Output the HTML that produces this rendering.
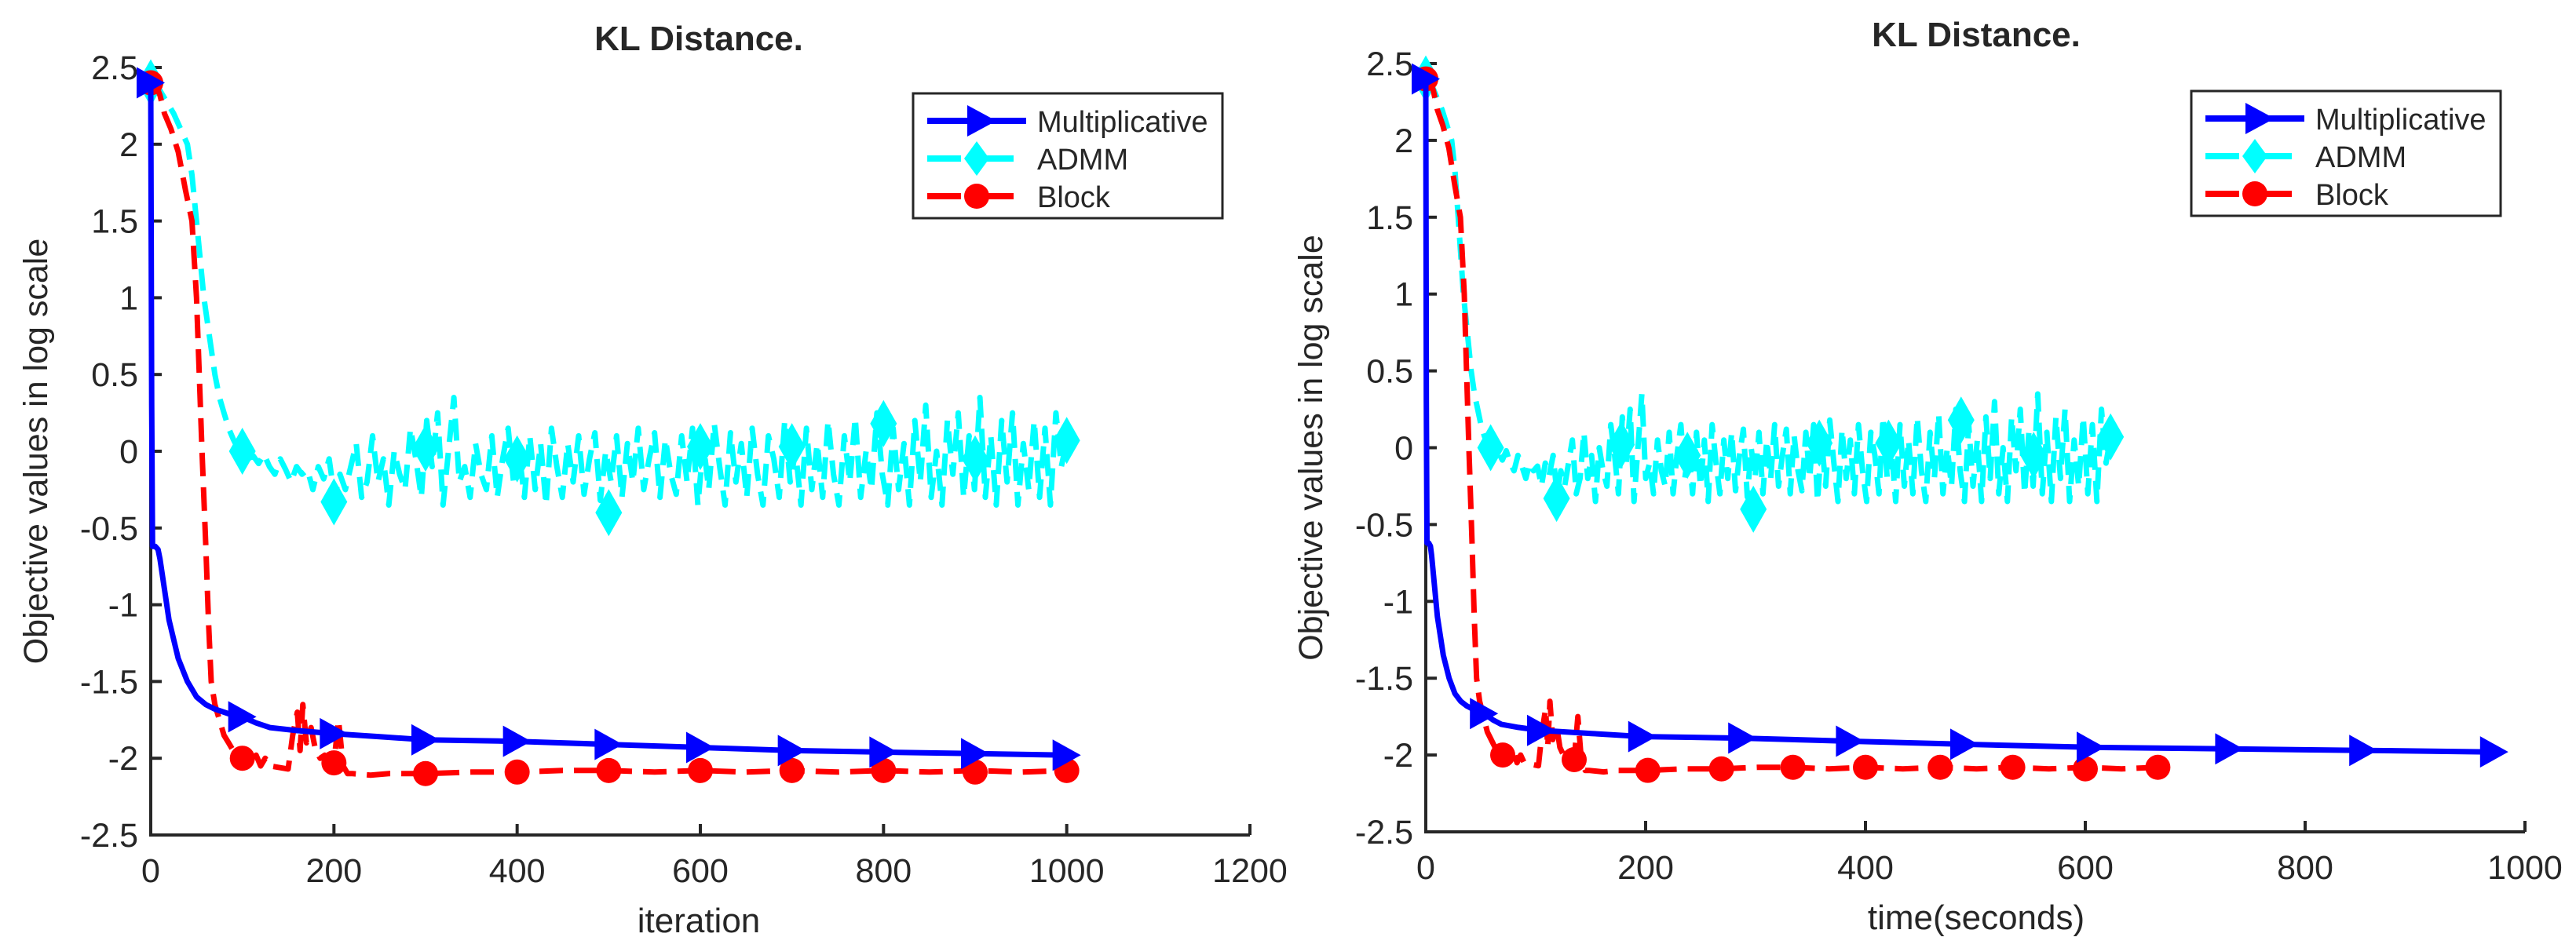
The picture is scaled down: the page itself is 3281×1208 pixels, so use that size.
<!DOCTYPE html>
<html><head><meta charset="utf-8"><style>
html,body{margin:0;padding:0;background:#fff}
svg{display:block}
text{font-family:"Liberation Sans",sans-serif;fill:#262626}
</style></head><body>
<svg id="fig" width="3281" height="1208" viewBox="0 0 3281 1208" xmlns="http://www.w3.org/2000/svg"></svg>
<script>
// ---- data ----
const multIter = [0,1,2,5,8,10,15,20,30,40,50,60,70,85,100,115,130,160,200,250,300,400,500,600,700,800,900,1000];
const multVal  = [2.4,0.3,-0.62,-0.62,-0.64,-0.7,-0.9,-1.1,-1.35,-1.5,-1.6,-1.65,-1.68,-1.71,-1.73,-1.77,-1.8,-1.82,-1.84,-1.86,-1.88,-1.89,-1.91,-1.93,-1.95,-1.96,-1.97,-1.98];
const multMarkVal = [2.4,-1.73,-1.84,-1.88,-1.89,-1.91,-1.93,-1.95,-1.96,-1.97,-1.98];

const blockIter = [0,5,10,15,22,30,38,45,50,53,56,60,63,66,70,75,80,85,90,95,100,105,110,115,120,125,130,140,150,155,160,163,166,170,175,180,185,190,195,200,205,210,215,220,240,260,300,350,400,450,500,550,600,650,700,750,800,850,900,950,1000];
const blockVal  = [2.4,2.4,2.32,2.2,2.1,1.95,1.7,1.5,1.0,0.5,0.0,-0.6,-1.1,-1.5,-1.65,-1.75,-1.85,-1.9,-1.95,-2.0,-2.0,-1.95,-2.03,-1.98,-2.05,-2.0,-2.05,-2.06,-2.07,-1.85,-1.7,-1.95,-1.65,-1.9,-1.8,-1.95,-2.0,-1.98,-2.02,-2.03,-1.75,-2.05,-2.1,-2.1,-2.11,-2.1,-2.1,-2.09,-2.09,-2.08,-2.08,-2.09,-2.08,-2.09,-2.08,-2.09,-2.08,-2.09,-2.08,-2.09,-2.08];
const blockMarkVal = [2.4,-2.0,-2.03,-2.1,-2.09,-2.08,-2.08,-2.08,-2.08,-2.09,-2.08];

const admmHeadIter = [0,10,25,40,45,50,54,58,64,70,75,80,85,90,95,100];
const admmHeadVal  = [2.4,2.35,2.2,2.0,1.8,1.5,1.25,1.0,0.75,0.5,0.35,0.25,0.15,0.08,0.02,0.0];
const admmNoise = [-0.05,-0.03,-0.08,-0.02,-0.1,-0.15,-0.05,-0.12,-0.2,-0.1,-0.15,-0.12,-0.25,-0.1,-0.18,-0.05,-0.3,
-0.15,-0.25,-0.1,0.05,-0.3,-0.2,0.1,-0.2,-0.05,-0.35,0.0,-0.15,-0.25,0.15,-0.05,-0.3,0.2,
-0.1,0.25,-0.35,0.0,0.35,-0.2,-0.1,-0.3,0.05,-0.15,-0.25,0.1,-0.3,-0.05,0.15,-0.2,0.0,
-0.3,0.1,-0.25,0.05,-0.35,0.15,-0.1,-0.3,0.05,-0.2,0.1,-0.28,-0.05,0.12,-0.32,0.0,-0.2,
0.1,-0.3,0.05,-0.2,0.15,-0.25,-0.05,0.12,-0.3,0.08,-0.15,-0.28,0.1,-0.2,0.15,-0.35,0.05,
-0.25,0.18,-0.1,-0.35,0.12,-0.2,0.05,-0.3,0.15,-0.15,-0.35,0.1,-0.05,-0.3,0.2,-0.2,0.0,
-0.35,0.15,-0.25,0.05,-0.3,0.2,-0.15,-0.35,0.1,-0.2,0.22,-0.3,0.0,-0.25,0.25,-0.15,-0.35,
0.15,-0.25,0.05,-0.35,0.2,-0.2,0.3,-0.3,0.0,-0.35,0.2,-0.15,0.25,-0.3,0.1,-0.25,0.35,
-0.3,0.1,-0.35,0.2,-0.2,0.25,-0.35,0.05,-0.25,0.2,-0.3,0.15,-0.35,0.25,-0.1,0.07];
const admmMarkVal = [2.4,0.0,-0.33,0.02,-0.05,-0.4,0.03,0.03,0.18,-0.05,0.07];

const markIter = [0,100,200,300,400,500,600,700,800,900,1000];
// time (seconds) reached at each marker iteration
const multTime  = [0,53,105,197,288,386,490,605,731,853,972];
const admmTime  = [0,59,119,178,238,298,358,421,487,553,623];
const blockTime = [0,70,135,202,269,334,400,468,534,600,666];

const yTicks = [2.5,2,1.5,1,0.5,0,-0.5,-1,-1.5,-2,-2.5];
const yTickLabels = ["2.5","2","1.5","1","0.5","0","-0.5","-1","-1.5","-2","-2.5"];
const xTicksLeft = [0,200,400,600,800,1000,1200];
const xTicksRight = [0,200,400,600,800,1000];

// ---- drawing ----
const NS='http://www.w3.org/2000/svg';
const svg=document.getElementById('fig');
function mk(tag,attrs,parent){const e=document.createElementNS(NS,tag);for(const k in attrs)e.setAttribute(k,attrs[k]);(parent||svg).appendChild(e);return e;}
function interp(xs,ys,x){if(x<=xs[0])return ys[0];for(let i=1;i<xs.length;i++){if(x<=xs[i]){const t=(x-xs[i-1])/(xs[i]-xs[i-1]);return ys[i-1]+t*(ys[i]-ys[i-1]);}}return ys[ys.length-1];}

const admmIter = admmHeadIter.slice(); const admmVal = admmHeadVal.slice();
admmNoise.forEach((v,i)=>{admmIter.push(100+(i+1)*900/admmNoise.length);admmVal.push(v);});

function panel(cfg){
  const g=mk('g',{});
  
  
  const X=v=>cfg.x0+(v-cfg.xmin)/(cfg.xmax-cfg.xmin)*(cfg.x1-cfg.x0);
  const Y=v=>cfg.y1-(v+2.5)/5*(cfg.y1-cfg.y0);
  const ax=mk('path',{d:`M${cfg.x0},${cfg.y0} L${cfg.x0},${cfg.y1} L${cfg.x1},${cfg.y1}`,fill:'none',stroke:'#262626','stroke-width':4},g);
  
  yTicks.forEach((t,i)=>{
    const y=Y(t);
    const tk=mk('line',{x1:cfg.x0,x2:cfg.x0+14,y1:y,y2:y,stroke:'#262626','stroke-width':4},g);
    
    const tl=mk('text',{x:cfg.x0-16,y:y+15,'font-size':43,'text-anchor':'end'},g);tl.textContent=yTickLabels[i];
    
  });
  cfg.xticks.forEach(t=>{
    const x=X(t);
    const tk=mk('line',{x1:x,x2:x,y1:cfg.y1,y2:cfg.y1-14,stroke:'#262626','stroke-width':4},g);
    
    const tl=mk('text',{x:x,y:cfg.y1+60,'font-size':43,'text-anchor':'middle'},g);tl.textContent=String(t);
    
  });
  const tt=mk('text',{x:cfg.titleX,y:cfg.y0-22,'font-size':44,'font-weight':'bold','text-anchor':'middle',fill:'#000'},g);tt.textContent='KL Distance.';
  
  const xl=mk('text',{x:cfg.titleX,y:cfg.y1+124,'font-size':44,'text-anchor':'middle'},g);xl.textContent=cfg.xlabel;
  
  const yl=mk('text',{x:0,y:0,'font-size':43,'text-anchor':'middle',transform:`translate(${cfg.x0-132},${(cfg.y0+cfg.y1)/2}) rotate(-90)`},g);yl.textContent='Objective values in log scale';
  

  const series=[
    {name:'admm',iter:admmIter,val:admmVal,mark:admmMarkVal,time:admmTime,color:'#00ffff',dash:'28 14',w:7,m:'diamond'},
    {name:'block',iter:blockIter,val:blockVal,mark:blockMarkVal,time:blockTime,color:'#ff0000',dash:'30 14',w:7,m:'circle'},
    {name:'multiplicative',iter:multIter,val:multVal,mark:multMarkVal,time:multTime,color:'#0000ff',dash:'',w:7,m:'triangle'}
  ];
  series.forEach(s=>{
    const xv=it=>cfg.time?interp(markIter,s.time,it):it;
    let d='';s.iter.forEach((it,i)=>{d+=(i?'L':'M')+X(xv(it)).toFixed(1)+','+Y(s.val[i]).toFixed(1);});
    const p=mk('path',{d:d,fill:'none',stroke:s.color,'stroke-width':s.w,'stroke-dasharray':s.dash,'stroke-linejoin':'round'},g);
    
    markIter.forEach((it,i)=>{
      const cx=X(xv(it)),cy=Y(s.mark[i]);let e;
      if(s.m==='circle')e=mk('circle',{cx:cx,cy:cy,r:16,fill:s.color},g);
      else if(s.m==='diamond')e=mk('path',{d:`M${cx},${cy-30}L${cx+17},${cy}L${cx},${cy+30}L${cx-17},${cy}Z`,fill:s.color},g);
      else e=mk('path',{d:`M${cx-18},${cy-20}L${cx+18},${cy}L${cx-18},${cy+20}Z`,fill:s.color},g);
      
    });
  });
  const L=cfg.legend;
  const lg=mk('g',{},g);
  mk('rect',{x:L.x,y:L.y,width:394,height:159,fill:'#fff',stroke:'#262626','stroke-width':3},lg);
  const ent=[['Multiplicative','#0000ff','triangle'],['ADMM','#00ffff','diamond'],['Block','#ff0000','circle']];
  ent.forEach((en,i)=>{
    const ey=L.y+35+i*48;const lx=L.x+18;
    const eg=mk('g',{},lg);
    if(en[2]==='triangle'){mk('line',{x1:lx,x2:lx+126,y1:ey,y2:ey,stroke:en[1],'stroke-width':8},eg);mk('path',{d:`M${lx+51},${ey-20}L${lx+88},${ey}L${lx+51},${ey+20}Z`,fill:en[1]},eg);}
    else{mk('line',{x1:lx,x2:lx+43,y1:ey,y2:ey,stroke:en[1],'stroke-width':8},eg);mk('line',{x1:lx+67,x2:lx+110,y1:ey,y2:ey,stroke:en[1],'stroke-width':8},eg);
      if(en[2]==='diamond')mk('path',{d:`M${lx+63},${ey-22}L${lx+79},${ey}L${lx+63},${ey+22}L${lx+47},${ey}Z`,fill:en[1]},eg);
      else mk('circle',{cx:lx+63,cy:ey,r:16,fill:en[1]},eg);}
    const t=mk('text',{x:L.x+158,y:ey+14,'font-size':38,fill:'#000'},eg);t.textContent=en[0];
  });
}
panel({name:'left-panel',x0:192,x1:1592,y0:86,y1:1064,xmin:0,xmax:1200,xticks:xTicksLeft,xlabel:'iteration',titleX:890,time:false,legend:{x:1163,y:119}});
panel({name:'right-panel',x0:1816,x1:3216,y0:81,y1:1060,xmin:0,xmax:1000,xticks:xTicksRight,xlabel:'time(seconds)',titleX:2517,time:true,legend:{x:2791,y:116}});
</script>
</body></html>
